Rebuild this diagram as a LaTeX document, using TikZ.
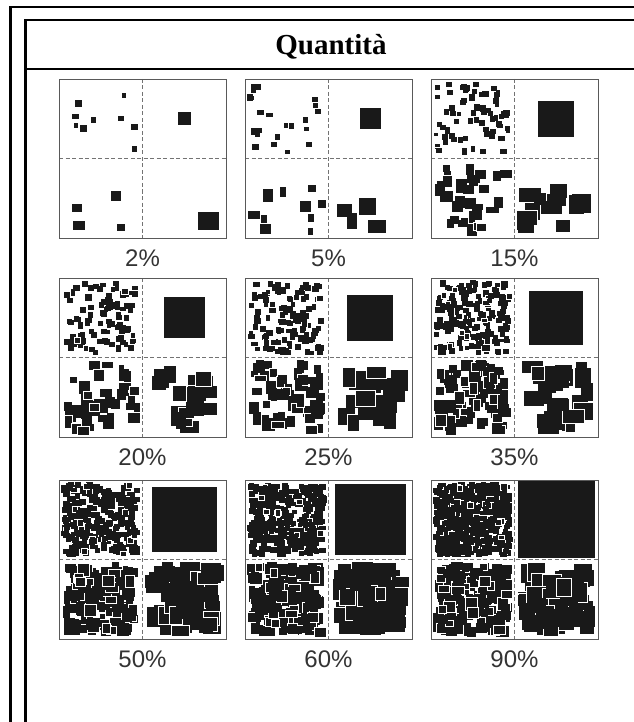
\documentclass[tikz,border=0pt]{standalone}
\usepackage{fontspec}
\setmainfont{Liberation Serif}
\setsansfont{Liberation Sans}
\usepackage{tikz}
\usetikzlibrary{positioning}

\tikzset{
  panelbox/.style={draw=black!65, line width=0.9pt, minimum width=167pt, minimum height=159pt, inner sep=0pt},
  quadline/.style={draw=black!55, dash pattern=on 4pt off 2.5pt, line width=0.8pt},
  blob/.style={fill=black!90},
  edgeblob/.style={fill=black!90, draw=white, line width=0.4pt},
  pctlabel/.style={font=\sffamily\fontsize{24}{24}\selectfont, text=black!80, inner sep=0pt},
  frameline/.style={line width=2.5pt},
}

% random blocks in one quadrant: outlined share, x0, y0, size, spread, density
\newcommand{\scatterblobs}[6]{%
  \pgfmathtruncatemacro\nblob{max(1,round(#6*(79.5/#4)*(75.5/#4)/(1+#5+#5*#5/3)))}
  \foreach \k in {1,...,\nblob}{
    \pgfmathsetmacro\bw{#4*(1+#5*rnd)}
    \pgfmathsetmacro\bh{#4*(1+#5*rnd)}
    \pgfmathsetmacro\bx{#2+rnd*(79.5-\bw)}
    \pgfmathsetmacro\by{#3+rnd*(75.5-\bh)}
    \pgfmathtruncatemacro\bedge{rnd<#1 ? 1 : 0}
    \ifnum\bedge=1
      \path[edgeblob] (\bx,\by) rectangle ++(\bw,\bh);
    \else
      \path[blob] (\bx,\by) rectangle ++(\bw,\bh);
    \fi
  }
}

% one panel: name, x0, y0, fraction, label
\newcommand{\quantpanel}[5]{%
  \pgfmathsetmacro\qlam{min(3.2,2.3*(-ln(1-#4)))}
  \pgfmathsetmacro\qlamb{min(3.6,1.4*\qlam)}
  \pgfmathsetmacro\qside{min(77,sqrt(#4)*92)}
  \path[blob] ({#2+125.25-\qside/2},{#3+39.75-\qside/2}) rectangle ++(\qside,\qside);
  \scatterblobs{0.1}{#2+2}{#3+2}{4.5}{0.5}{\qlam}
  \scatterblobs{0.3}{#2+2}{#3+81.5}{6.5}{1}{\qlamb}
  \scatterblobs{0.3}{#2+85.5}{#3+81.5}{10}{1.2}{\qlamb}
  \draw[quadline] ({#2+83.5},#3) -- ({#2+83.5},{#3+159});
  \draw[quadline] (#2,{#3+79.5}) -- ({#2+167},{#3+79.5});
  \node[panelbox] (#1) at ({#2+83.5},{#3+79.5}) {};
  \node[pctlabel, below=11pt of #1] (#1-lbl) {#5};
}

\begin{document}
\begin{tikzpicture}[x=1pt, y=-1pt]
    \useasboundingbox (0,0) rectangle (633,722);
    \pgfmathsetseed{7}

    % Frame
    \draw[frameline] (10.5,730) -- (10.5,7) -- (640,7);
    \draw[frameline] (25.5,730) -- (25.5,20) -- (640,20);
    \draw[line width=2pt] (25.5,69.5) -- (640,69.5);

    % Title
    \node[font=\bfseries\fontsize{29}{29}\selectfont, anchor=base] (title) at (331,55) {Quantità};

    % Panels
    \quantpanel{pa}{59}{79}{0.02}{2\%}
    \quantpanel{pb}{245}{79}{0.05}{5\%}
    \quantpanel{pc}{431}{79}{0.15}{15\%}
    \quantpanel{pd}{59}{278}{0.20}{20\%}
    \quantpanel{pe}{245}{278}{0.25}{25\%}
    \quantpanel{pf}{431}{278}{0.35}{35\%}
    \quantpanel{pg}{59}{480}{0.50}{50\%}
    \quantpanel{ph}{245}{480}{0.60}{60\%}
    \quantpanel{pi}{431}{480}{0.90}{90\%}
\end{tikzpicture}
\end{document}
